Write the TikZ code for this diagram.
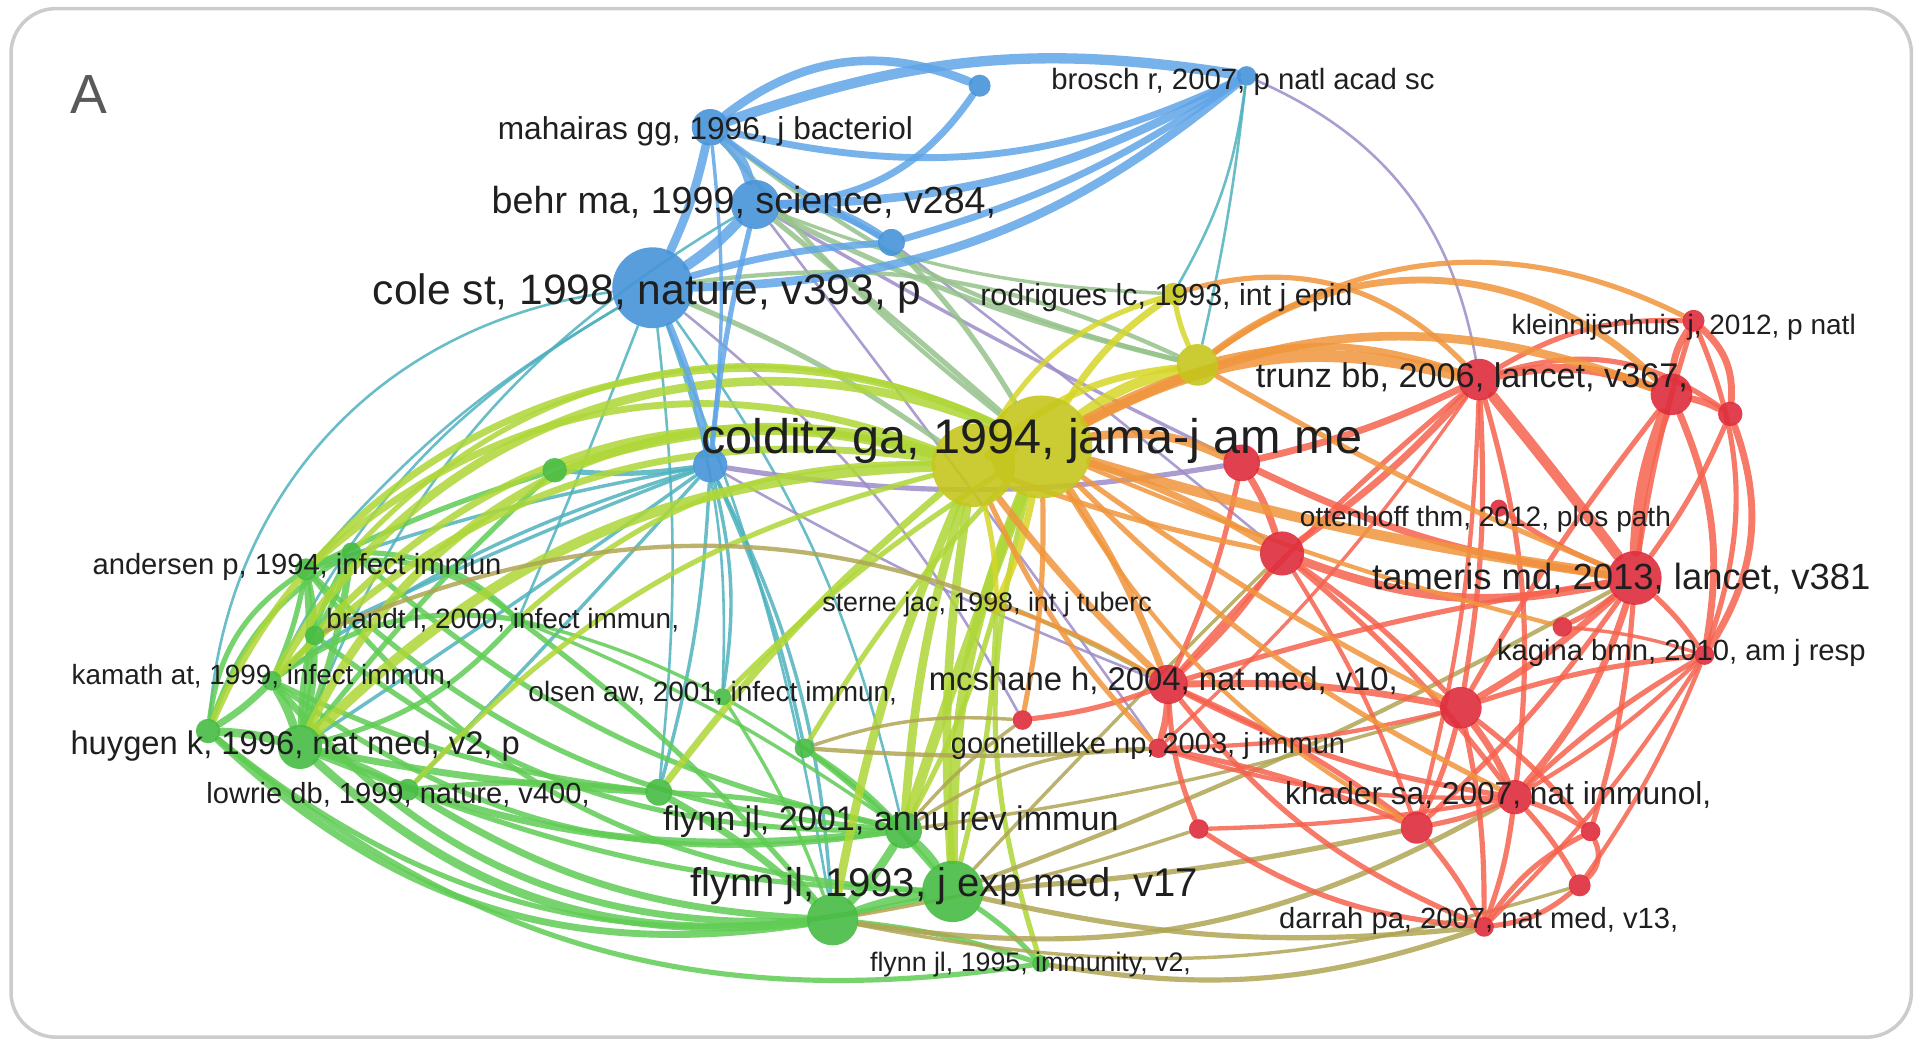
\documentclass[tikz,border=0pt]{standalone}
\usepackage{fontspec}
\setmainfont{Liberation Sans}
\pgfdeclarelayer{frame}
\pgfdeclarelayer{edges}
\pgfsetlayers{frame,edges,main}
\newdimen\UU \UU=0.012245cm
\definecolor{nblue}{RGB}{70,148,218}
\definecolor{ngreen}{RGB}{72,188,68}
\definecolor{nyellow}{RGB}{198,198,30}
\definecolor{nred}{RGB}{222,45,60}
\definecolor{eblue}{RGB}{96,165,232}
\definecolor{egreen}{RGB}{96,204,84}
\definecolor{eyellow}{RGB}{214,214,40}
\definecolor{ered}{RGB}{246,98,78}
\definecolor{eteal}{RGB}{78,178,190}
\definecolor{epurple}{RGB}{158,140,200}
\definecolor{eorange}{RGB}{240,150,60}
\definecolor{eolive}{RGB}{176,165,85}
\definecolor{eyg}{RGB}{175,215,55}
\definecolor{eby}{RGB}{150,195,140}
\tikzset{
  nd/.style={circle, inner sep=0pt, draw=none, fill opacity=0.9},
  rr/.style={minimum size=#1*0.02449cm},
  lab/.style={anchor=west, inner sep=0pt, text=black!88},
  ed/.style={draw opacity=0.85, line cap=round},
}
\newcommand\lbl[4]{\node[lab] (#1) at (#2) {\resizebox{#3\UU}{!}{\vphantom{lg}#4}};}
\newcommand\edges[2]{\foreach \a/\b/\g/\w in {#2} {\pgfmathsetmacro\gg{\g+6}\draw[ed, #1, line width=\w*0.49pt] (\a) to[bend left=\gg] (\b);}}
\begin{document}
\begin{tikzpicture}[x=0.012245cm, y=0.012245cm]
\useasboundingbox (0,0) rectangle (1568,-852);
\begin{pgfonlayer}{frame}
\fill[white] (0,0) rectangle (1568,-852);
\draw[draw=black!20, line width=1pt, rounded corners=0.45cm] (9,-7) rectangle (1561,-847);
\end{pgfonlayer}
% ---------- nodes ----------
% blue
\node[nd, fill=nblue, rr=15] (mah) at (580,-104) {};
\node[nd, fill=nblue, rr=9] (bsm) at (800,-70) {};
\node[nd, fill=nblue, rr=8] (bro) at (1018,-62) {};
\node[nd, fill=nblue, rr=20] (beh) at (617,-167) {};
\node[nd, fill=nblue, rr=11] (b5) at (728,-198) {};
\node[nd, fill=nblue, rr=33] (col) at (533,-235) {};
\node[nd, fill=nblue, rr=14] (b7) at (580,-380) {};
% yellow
\node[nd, fill=nyellow, rr=9] (rod) at (958,-240) {};
\node[nd, fill=nyellow, rr=17] (y2) at (978,-298) {};
\node[nd, fill=nyellow, rr=34] (cg2) at (795,-380) {};
\node[nd, fill=nyellow, rr=42] (cg1) at (850,-365) {};
\node[nd, fill=nyellow, rr=7] (ste) at (814,-494) {};
% green
\node[nd, fill=ngreen, rr=10] (g1) at (453,-384) {};
\node[nd, fill=ngreen, rr=9] (and1) at (250,-465) {};
\node[nd, fill=ngreen, rr=8] (and2) at (287,-451) {};
\node[nd, fill=ngreen, rr=8] (bra) at (257,-519) {};
\node[nd, fill=ngreen, rr=6] (brh) at (423,-506) {};
\node[nd, fill=ngreen, rr=8] (kam) at (222,-556) {};
\node[nd, fill=ngreen, rr=18] (huy1) at (245,-610) {};
\node[nd, fill=ngreen, rr=10] (huy2) at (170,-597) {};
\node[nd, fill=ngreen, rr=9] (low) at (333,-645) {};
\node[nd, fill=ngreen, rr=7] (ols) at (590,-569) {};
\node[nd, fill=ngreen, rr=11] (g8) at (538,-647) {};
\node[nd, fill=ngreen, rr=8] (g9) at (657,-611) {};
\node[nd, fill=ngreen, rr=15] (fl01) at (738,-678) {};
\node[nd, fill=ngreen, rr=21] (fl93a) at (680,-751) {};
\node[nd, fill=ngreen, rr=25] (fl93b) at (778,-728) {};
\node[nd, fill=ngreen, rr=7] (fl95) at (850,-787) {};
% red
\node[nd, fill=nred, rr=17] (trz) at (1208,-310) {};
\node[nd, fill=nred, rr=9] (kle) at (1383,-262) {};
\node[nd, fill=nred, rr=17] (r3) at (1365,-322) {};
\node[nd, fill=nred, rr=10] (r4) at (1413,-338) {};
\node[nd, fill=nred, rr=15] (r5) at (1014,-378) {};
\node[nd, fill=nred, rr=18] (ott) at (1047,-452) {};
\node[nd, fill=nred, rr=7] (ots) at (1224,-415) {};
\node[nd, fill=nred, rr=22] (tam) at (1335,-472) {};
\node[nd, fill=nred, rr=8] (kag1) at (1276,-512) {};
\node[nd, fill=nred, rr=8] (kag2) at (1392,-535) {};
\node[nd, fill=nred, rr=16] (mcs) at (954,-559) {};
\node[nd, fill=nred, rr=17] (r10) at (1193,-578) {};
\node[nd, fill=nred, rr=8] (goo1) at (835,-588) {};
\node[nd, fill=nred, rr=8] (goo2) at (946,-611) {};
\node[nd, fill=nred, rr=14] (kha) at (1237,-651) {};
\node[nd, fill=nred, rr=8] (r13) at (979,-677) {};
\node[nd, fill=nred, rr=13] (r14) at (1157,-676) {};
\node[nd, fill=nred, rr=8] (r15) at (1299,-679) {};
\node[nd, fill=nred, rr=9] (r16) at (1290,-723) {};
\node[nd, fill=nred, rr=8] (dar) at (1212,-757) {};
% ---------- edges ----------
\begin{pgfonlayer}{edges}
\edges{eteal}{col/huy2/-45/1.5, col/kam/-22/1.5, col/and1/-15/1.5, col/brh/-5/1.5, col/ols/5/1.5, col/g8/0/1.5, col/fl01/5/1.5, col/fl93a/0/1.5, beh/huy1/-25/1.5, b7/and1/-10/2, b7/bra/-8/2, b7/kam/-15/2, b7/huy1/-5/2, b7/g9/0/2, b7/ols/5/2, b7/fl93a/5/2, b7/low/-5/2, b7/g8/0/2, b7/g1/0/3, bro/rod/5/1.5, bro/y2/-3/1.5}
\edges{epurple}{bro/trz/22/1.5, beh/r5/-8/2, b7/mcs/-10/1.5, col/goo1/5/1.5, b5/ott/-5/1.5, b7/r5/-15/3, beh/goo2/-5/1.5}
\edges{eby}{beh/cg1/-5/3, beh/y2/-12/3, mah/cg1/-12/2.5, b5/cg1/0/3, col/cg2/0/3, mah/y2/-18/2.5, beh/rod/-15/2, col/y2/10/2.5}
\edges{egreen}{huy1/fl93a/-30/5, huy2/fl93a/-32/4, kam/fl93a/-32/4, and1/fl93b/-30/3, huy2/fl93b/-32/3, huy2/fl95/-30/3, low/fl93a/-20/4, bra/fl01/-25/3, huy1/fl01/-20/4, kam/g8/-15/3, huy1/g8/-10/4, and1/fl01/-25/3, low/fl93b/-15/3, brh/fl93a/0/3, brh/fl01/0/2, and1/kam/0/3, and1/huy1/0/4, and2/huy1/0/4, and1/and2/0/3, kam/huy1/0/5, bra/huy1/0/4, huy2/huy1/0/5, kam/huy2/0/4, bra/kam/0/3, and1/bra/0/3, and2/bra/0/3, brh/huy1/10/3, brh/ols/0/2, and2/brh/15/3, and1/brh/20/3, kam/brh/15/3, huy1/low/0/4, low/g8/0/3, g8/fl93a/0/4, g9/fl93b/0/3, ols/fl93a/0/2, fl01/fl93b/0/5, fl93a/fl93b/0/5, fl93a/fl95/0/3, fl93b/fl95/0/3, fl01/fl93a/0/5, g8/fl01/0/3, g9/fl01/0/3, ols/fl01/0/2, and1/huy2/-30/3, and2/huy2/-25/3, and2/huy1/-20/3, g1/huy1/-10/3, g1/and1/-10/3, and2/fl01/-20/3, kam/fl01/-28/3}
\edges{eyg}{huy1/cg2/35/5, kam/cg1/35/5, and1/cg2/25/4, huy2/cg1/40/4, bra/cg2/25/4, g1/cg2/10/5, huy1/cg2/15/6, low/cg2/10/3, brh/cg2/15/3, kam/cg2/20/4, ols/cg1/0/3, g8/cg2/0/4, g9/cg1/0/3, fl01/cg1/-5/6, fl93a/cg2/0/5, fl93b/cg1/5/6, fl95/cg1/10/3, fl93b/cg2/0/5, fl01/cg2/0/5, and2/cg1/30/3, ste/fl01/0/3, ste/fl93b/0/3}
\edges{eyellow}{cg1/y2/5/6, cg1/rod/5/4, cg2/rod/15/3, cg1/ste/0/4, cg2/ste/0/3, y2/rod/0/3, cg2/y2/10/4, cg2/cg1/0/6}
\edges{eolive}{fl93a/kha/-25/3, fl93b/dar/-15/3, fl95/dar/-20/3, fl93b/r14/-10/3, fl93a/r16/-20/2, fl01/goo2/10/2, fl01/r10/-10/2, bra/mcs/20/2.5, g9/goo2/-10/2.5, fl93b/ott/-5/2, fl93b/tam/-10/2.5, g9/goo1/5/2, fl01/goo1/0/2, fl93a/r13/-10/2}
\edges{ered}{trz/kle/10/3, trz/r3/10/5, trz/r4/20/3, trz/tam/-5/6, trz/r5/0/4, trz/ott/0/4, trz/r10/0/3, trz/kha/5/3, trz/mcs/-10/3, trz/r14/0/2.5, trz/goo2/0/2, kle/r3/-20/4, kle/r4/20/4, kle/tam/-10/3, kle/kag2/15/3, r3/r4/0/4, r3/tam/-15/7, r3/kag2/10/4, r4/kag2/20/4, r3/r10/-10/3, r4/tam/0/3, tam/r10/0/4, tam/kha/5/4, tam/kag1/0/3, tam/ots/0/3, tam/ott/10/5, tam/kag2/0/3, tam/mcs/-10/3, tam/r14/0/3, tam/r15/0/3, r5/ott/0/4, r5/mcs/0/3, r5/tam/-15/4, ott/mcs/0/3, ott/r10/0/3, ott/kha/0/3, ott/r14/0/2.5, mcs/goo2/0/4, mcs/goo1/0/3, mcs/r13/-15/3, mcs/kha/-15/3, mcs/r10/0/4, mcs/r14/0/3, mcs/dar/-20/3, r10/kha/0/4, r10/dar/0/3, r10/r15/0/3, r10/kag2/0/3, r10/r14/0/3, r10/goo2/0/2.5, kha/r15/0/3, kha/r16/0/3, kha/dar/0/3, kha/r14/0/3, kha/kag2/0/3, r15/r16/30/3, r16/dar/10/3, r15/dar/-20/3, r14/dar/0/3, r13/kha/-10/2.5, goo2/r14/0/3, goo2/kha/-15/2.5, r13/dar/-20/3, kag1/kag2/0/2, kag2/kha/0/2.5, kag2/dar/0/2.5, kag2/r16/0/2.5}
\edges{eorange}{cg1/trz/15/7, y2/r3/35/4, rod/trz/25/3, y2/kle/25/3, cg1/r5/10/5, cg1/tam/-10/6, cg1/ott/0/4, cg2/mcs/-10/4, cg1/mcs/0/4, cg1/r10/-10/3, cg1/kha/-15/3, ste/mcs/0/2, cg1/goo1/0/3, cg2/goo2/-15/3, y2/trz/10/4, cg1/r3/18/5, cg2/ott/-10/3, cg1/kag1/-10/2.5, cg1/r14/-20/2.5, y2/tam/-10/3}
\edges{eblue}{mah/bro/8/6, mah/bsm/24/5, mah/bro/-25/4, beh/bro/-20/5, col/bro/-25/5, bsm/beh/20/4, mah/beh/10/6, mah/col/0/5, beh/col/0/6, beh/b5/10/5, col/b5/0/4, b5/bro/-15/4, mah/b5/-10/3, col/b7/0/4, beh/b7/-10/3, mah/b7/0/2}
\end{pgfonlayer}
% ---------- labels ----------
\node[anchor=south west, inner sep=0pt, text=black!65] (tA) at (57,-93) {\resizebox{!}{31\UU}{A}};
\lbl{t1}{406,-107}{339}{mahairas gg, 1996, j bacteriol}
\lbl{t2}{858,-67}{313}{brosch r, 2007, p natl acad sc}
\lbl{t3}{401,-166}{412}{behr ma, 1999, science, v284,}
\lbl{t4}{304,-240}{448}{cole st, 1998, nature, v393, p}
\lbl{t5}{800,-243}{304}{rodrigues lc, 1993, int j epid}
\lbl{t6}{1234,-267}{281}{kleinnijenhuis j, 2012, p natl}
\lbl{t7}{1025,-309}{353}{trunz bb, 2006, lancet, v367,}
\lbl{t8}{572,-360}{540}{colditz ga, 1994, jama-j am me}
\lbl{t9}{1061,-424}{303}{ottenhoff thm, 2012, plos path}
\lbl{t10}{75,-463}{334}{andersen p, 1994, infect immun}
\lbl{t11}{1120,-474}{407}{tameris md, 2013, lancet, v381}
\lbl{t12}{671,-494}{269}{sterne jac, 1998, int j tuberc}
\lbl{t13}{266,-507}{288}{brandt l, 2000, infect immun,}
\lbl{t14}{1222,-533}{301}{kagina bmn, 2010, am j resp}
\lbl{t15}{58,-553}{311}{kamath at, 1999, infect immun,}
\lbl{t16}{758,-557}{383}{mcshane h, 2004, nat med, v10,}
\lbl{t17}{431,-567}{301}{olsen aw, 2001, infect immun,}
\lbl{t18}{57,-609}{367}{huygen k, 1996, nat med, v2, p}
\lbl{t19}{776,-609}{322}{goonetilleke np, 2003, j immun}
\lbl{t20}{168,-650}{313}{lowrie db, 1999, nature, v400,}
\lbl{t21}{1049,-650}{348}{khader sa, 2007, nat immunol,}
\lbl{t22}{541,-671}{372}{flynn jl, 2001, annu rev immun}
\lbl{t23}{563,-724}{415}{flynn jl, 1993, j exp med, v17}
\lbl{t24}{1044,-752}{326}{darrah pa, 2007, nat med, v13,}
\lbl{t25}{710,-788}{262}{flynn jl, 1995, immunity, v2,}
\end{tikzpicture}
\end{document}
